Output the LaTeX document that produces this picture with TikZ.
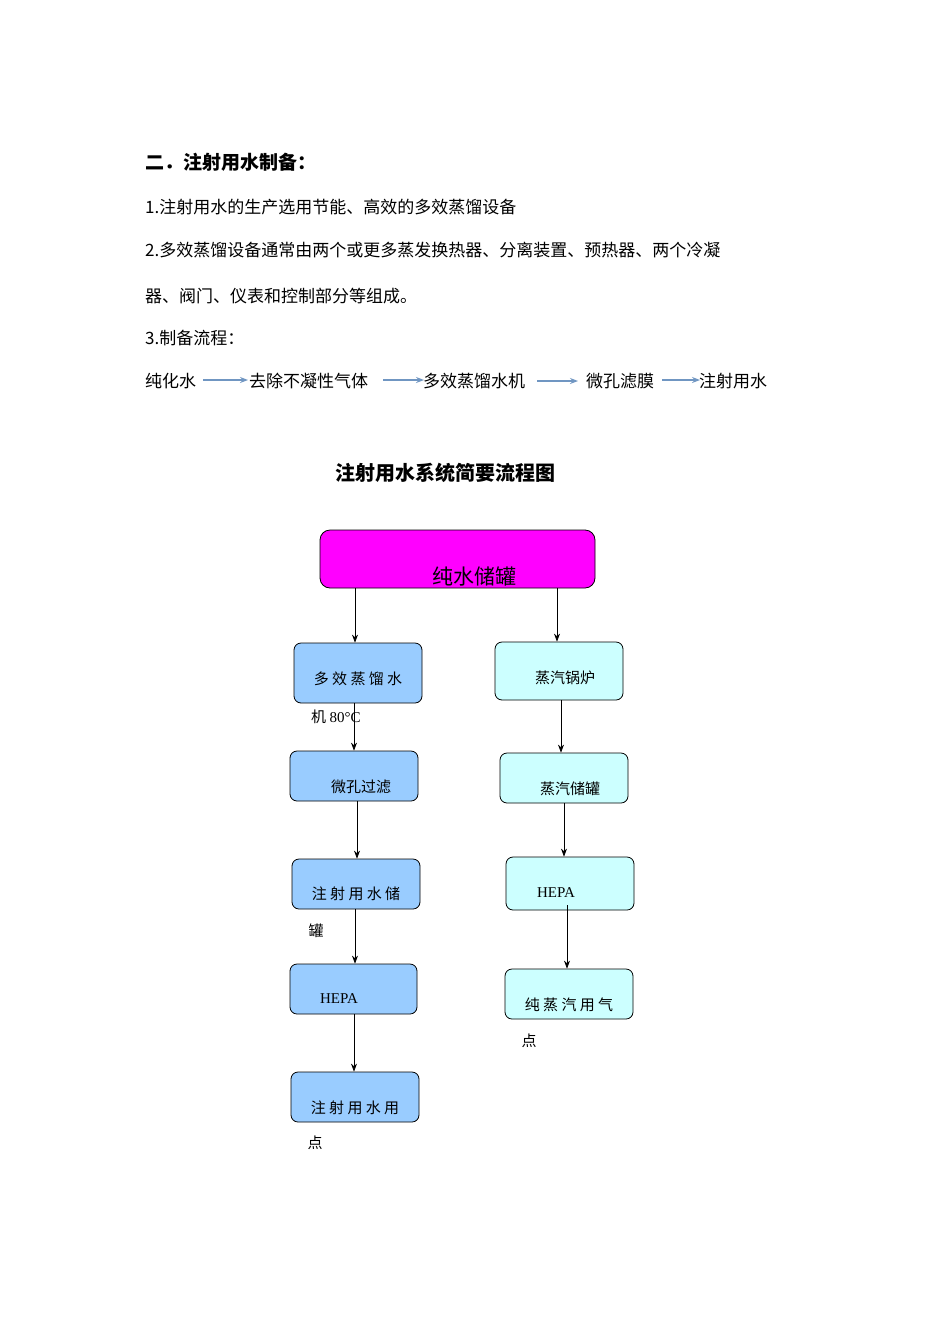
\documentclass[tikz,border=0pt]{standalone}
\usepackage{fontspec}
\setmainfont{Liberation Serif}
\newfontfamily\cjk{Noto Sans CJK SC}
\usetikzlibrary{arrows.meta}
\definecolor{flowblue}{HTML}{7096C2}
\definecolor{lblue}{HTML}{99CCFF}
\definecolor{lcyan}{HTML}{CCFFFF}
\definecolor{mag}{HTML}{FF00FF}
\begin{document}
\begin{tikzpicture}[x=1pt,y=-1pt,
  txt/.style={anchor=west,inner sep=0,font=\fontsize{17}{20}\selectfont\cjk},
  bt/.style={inner sep=0,font=\fontsize{15}{18}\selectfont\cjk},
  box/.style={draw,rounded corners=7pt,line width=0.8pt,inner sep=0},
  lbox/.style={box,fill=lblue},
  cbox/.style={box,fill=lcyan},
  arr/.style={-{Stealth[length=8pt,width=6pt]},line width=0.7pt},
  farr/.style={-{Stealth[length=8pt,width=6pt]},draw=flowblue,line width=1.2pt}]
\useasboundingbox (0,0) rectangle (950,1344);
\fill[white] (0,0) rectangle (950,1344);
\node[txt,font=\fontsize{19}{22}\selectfont\cjk\bfseries] (h) at (145,162) {二．注射用水制备：};
\node[txt] (l1) at (145,207) {1.注射用水的生产选用节能、高效的多效蒸馏设备};
\node[txt] (l2) at (145,250) {2.多效蒸馏设备通常由两个或更多蒸发换热器、分离装置、预热器、两个冷凝};
\node[txt] (l3) at (145,296) {器、阀门、仪表和控制部分等组成。};
\node[txt] (l4) at (145,338) {3.制备流程：};
\node[txt] (f1) at (145,381) {纯化水};
\node[txt] (f2) at (249,381) {去除不凝性气体};
\node[txt] (f3) at (423,381) {多效蒸馏水机};
\node[txt] (f4) at (586,381) {微孔滤膜};
\node[txt] (f5) at (699,381) {注射用水};
\coordinate (a1) at (203,380); \coordinate (b1) at (248,380);
\coordinate (a2) at (383,380); \coordinate (b2) at (424,380);
\coordinate (a3) at (537,381); \coordinate (b3) at (578,381);
\coordinate (a4) at (662,380); \coordinate (b4) at (700,380);
\draw[farr] (a1)--(b1); \draw[farr] (a2)--(b2); \draw[farr] (a3)--(b3); \draw[farr] (a4)--(b4);
\node[inner sep=0,font=\fontsize{20}{24}\selectfont\cjk\bfseries] (title) at (445,473) {注射用水系统简要流程图};
% boxes
\node[box,fill=mag,rounded corners=10pt,minimum width=275pt,minimum height=58pt] (top) at (457.5,559) {};
\node[bt,font=\fontsize{21}{24}\selectfont\cjk] (topt) at (474,576) {纯水储罐};
\node[lbox,minimum width=128pt,minimum height=60pt] (L1) at (358,673) {};
\node[bt] (L1t) at (358,679) {多 效 蒸 馏 水};
\node[bt,anchor=west] (L1b) at (311,717) {机 {\rmfamily 80°C}};
\node[lbox,minimum width=128pt,minimum height=50pt] (L2) at (354,776) {};
\node[bt] (L2t) at (361,787) {微孔过滤};
\node[lbox,minimum width=128pt,minimum height=50pt] (L3) at (356,884) {};
\node[bt] (L3t) at (356,894) {注 射 用 水 储};
\node[bt] (L3b) at (316,931) {罐};
\node[lbox,minimum width=127pt,minimum height=50pt] (L4) at (353.5,989) {};
\node[bt,font=\fontsize{15}{18}\selectfont\rmfamily] (L4t) at (339,999) {HEPA};
\node[lbox,minimum width=128pt,minimum height=50pt] (L5) at (355,1097) {};
\node[bt] (L5t) at (355,1108) {注 射 用 水 用};
\node[bt] (L5b) at (315,1143) {点};
\node[cbox,minimum width=128pt,minimum height=58pt] (R1) at (559,671) {};
\node[bt] (R1t) at (565,678) {蒸汽锅炉};
\node[cbox,minimum width=128pt,minimum height=50pt] (R2) at (564,778) {};
\node[bt] (R2t) at (570,789) {蒸汽储罐};
\node[cbox,minimum width=128pt,minimum height=53pt] (R3) at (570,883.5) {};
\node[bt,font=\fontsize{15}{18}\selectfont\rmfamily] (R3t) at (556,893) {HEPA};
\node[cbox,minimum width=128pt,minimum height=50pt] (R4) at (569,994) {};
\node[bt] (R4t) at (569,1005) {纯 蒸 汽 用 气};
\node[bt] (R4b) at (529,1041) {点};
% arrows
\draw[arr] (top.south -| 355,0) -- (L1.north -| 355,0);
\draw[arr] (L1.south -| 354,0) -- (L2.north -| 354,0);
\draw[arr] (L2.south -| 357,0) -- (L3.north -| 357,0);
\draw[arr] (L3.south -| 355,0) -- (L4.north -| 355,0);
\draw[arr] (L4.south -| 354,0) -- (L5.north -| 354,0);
\draw[arr] (top.south -| 557,0) -- (R1.north -| 557,0);
\draw[arr] (R1.south -| 561,0) -- (R2.north -| 561,0);
\draw[arr] (R2.south -| 564,0) -- (R3.north -| 564,0);
\draw[arr] ([yshift=5pt]R3.south -| 567,0) -- (R4.north -| 567,0);
\end{tikzpicture}
\end{document}
